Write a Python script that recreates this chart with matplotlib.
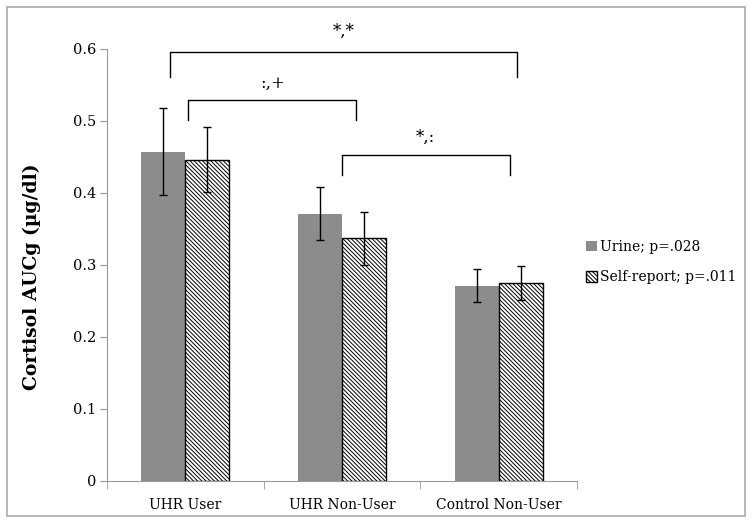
import matplotlib
matplotlib.use("Agg")
import matplotlib.pyplot as plt
import numpy as np
from matplotlib.patches import Rectangle

plt.rcParams['font.family'] = ['DejaVu Serif']
plt.rcParams['hatch.linewidth'] = 0.7

categories = ["UHR User", "UHR Non-User", "Control Non-User"]
urine = [0.457, 0.371, 0.271]
urine_lo = [0.397, 0.335, 0.249]
urine_hi = [0.518, 0.408, 0.295]
selfrep = [0.446, 0.337, 0.275]
selfrep_lo = [0.401, 0.300, 0.251]
selfrep_hi = [0.491, 0.373, 0.298]
series_labels = ["Urine; p=.028", "Self-report; p=.011"]
yticks = [0, 0.1, 0.2, 0.3, 0.4, 0.5, 0.6]
ytick_labels = ["0", "0.1", "0.2", "0.3", "0.4", "0.5", "0.6"]
# brackets: (x_left, x_right, y_top, y_bottom, label, label_y)
brackets = [
    (-0.10, 2.12, 0.596, 0.561, "*,*", 0.624),
    (0.02, 1.09, 0.529, 0.501, ":,+", 0.552),
    (1.00, 2.07, 0.453, 0.425, "*,:", 0.477),
]

fig = plt.figure(figsize=(7.54, 5.25), dpi=100)
W, H = 754, 525
ax = fig.add_axes([107 / W, (525 - 481) / H, (577 - 107) / W, (481 - 49) / H])

x = np.arange(len(categories))
bw = 0.28
u = np.array(urine); s = np.array(selfrep)
ax.bar(x - bw / 2, u, bw, color="#8c8c8c", edgecolor="none", label=series_labels[0], zorder=2)
ax.bar(x + bw / 2, s, bw, color="white", edgecolor="black", linewidth=1.0,
       hatch="\\" * 8, label=series_labels[1], zorder=2)
ax.errorbar(x - bw / 2, u, yerr=[u - np.array(urine_lo), np.array(urine_hi) - u],
            fmt="none", ecolor="black", elinewidth=1, capsize=3, capthick=1, zorder=3)
ax.errorbar(x + bw / 2, s, yerr=[s - np.array(selfrep_lo), np.array(selfrep_hi) - s],
            fmt="none", ecolor="black", elinewidth=1, capsize=3, capthick=1, zorder=3)

ax.set_xlim(-0.5, len(categories) - 0.5)
ax.set_ylim(0, 0.6)
ax.set_yticks(yticks)
ax.set_yticklabels(ytick_labels, fontsize=10.5)
ax.set_xticks(x)
ax.set_xticklabels(categories, fontsize=10)
ax.tick_params(axis="x", length=0, pad=12)
ax.set_xticks(np.arange(-0.5, len(categories)), minor=True)
ax.tick_params(axis="x", which="minor", length=6, color="#999999", direction="out")
ax.tick_params(axis="y", length=5, color="#999999", direction="out", pad=3)
for sp in ["top", "right"]:
    ax.spines[sp].set_visible(False)
for sp in ["left", "bottom"]:
    ax.spines[sp].set_color("#999999")
ax.set_ylabel("Cortisol AUCg (\u00b5g/dl)", fontsize=13.5, fontweight="bold")
ax.yaxis.set_label_coords((41 - 107) / 470, (481 - 277) / 432)

for xl, xr, yt, yb, lab, ly in brackets:
    ax.plot([xl, xl, xr, xr], [yb, yt, yt, yb], color="black", lw=1.0, clip_on=False,
            solid_joinstyle="round")
    ax.text((xl + xr) / 2, ly, lab, ha="center", va="center", fontsize=12, clip_on=False)

ax.legend(loc="center left", bbox_to_anchor=(573 / W, (525 - 262) / H),
          bbox_transform=fig.transFigure, frameon=False, fontsize=10,
          handlelength=0.8, handleheight=0.8, handletextpad=0.25, labelspacing=1.2)

fig.patches.append(Rectangle((7 / W, 9 / H), 738 / W, 509 / H, transform=fig.transFigure,
                             fill=False, edgecolor="#aaaaaa", lw=1.2))
fig.savefig("out.png", dpi=100)
